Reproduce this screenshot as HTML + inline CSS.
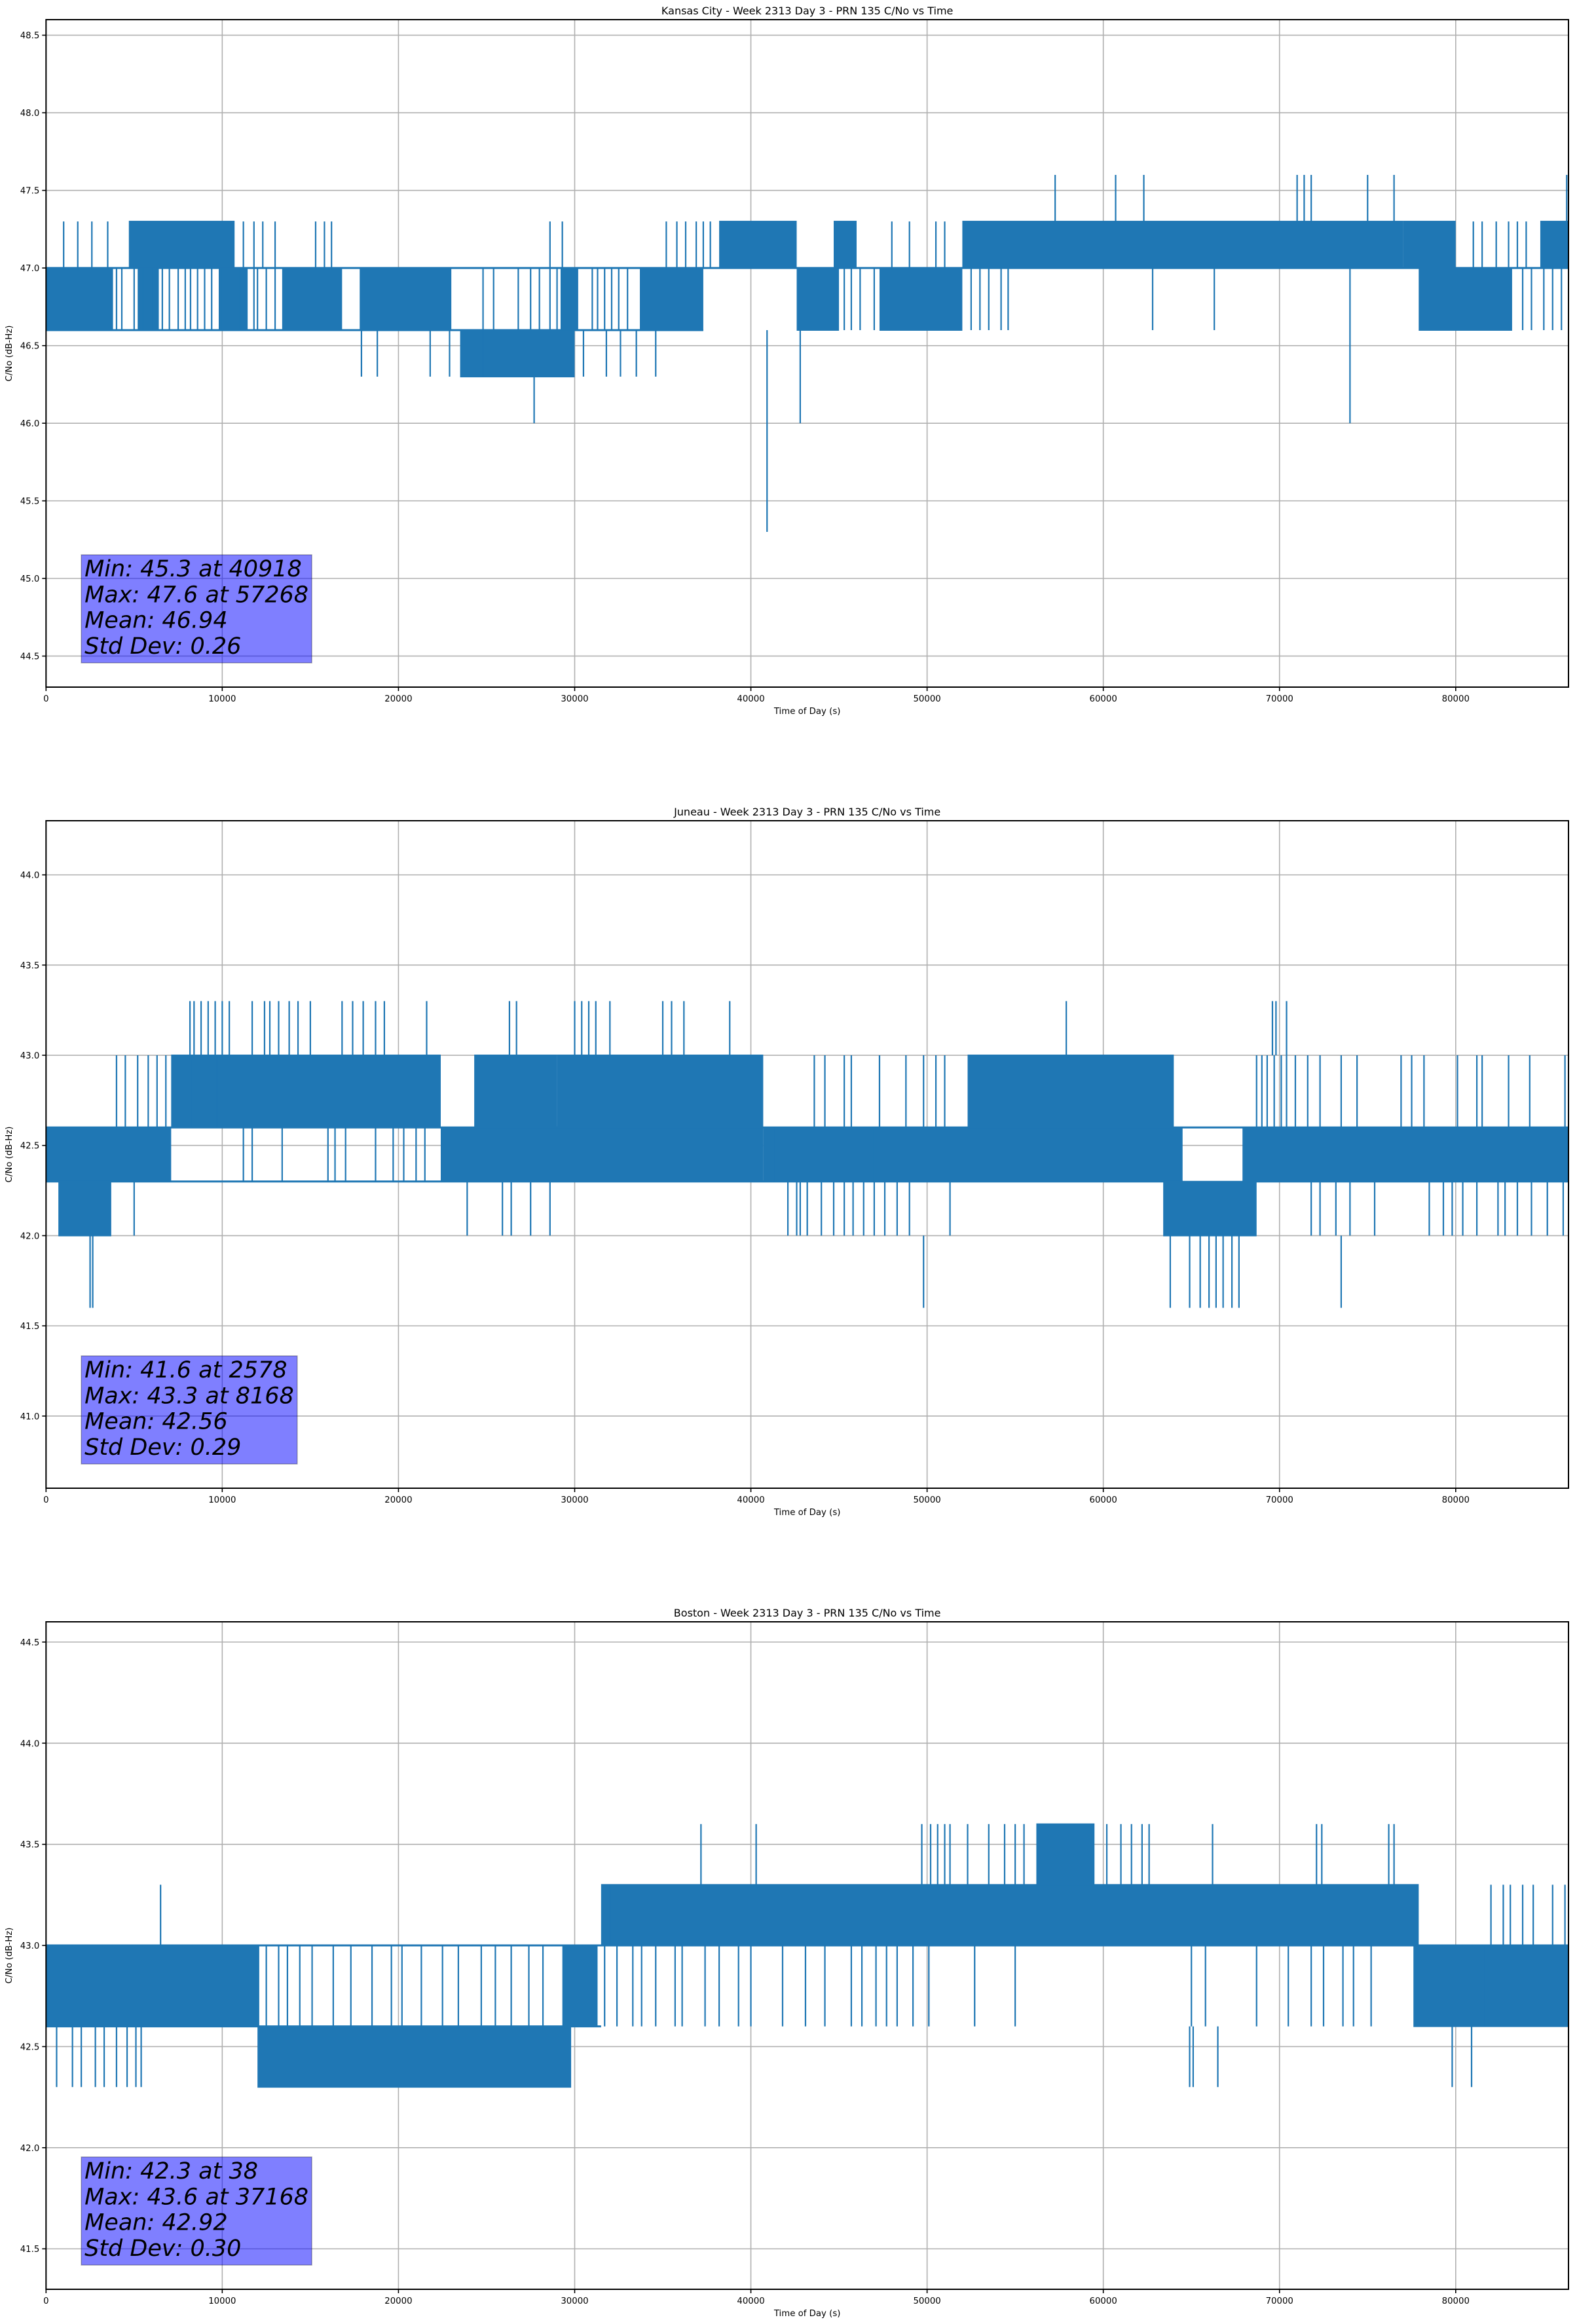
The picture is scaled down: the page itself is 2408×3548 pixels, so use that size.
<!DOCTYPE html>
<html><head><meta charset="utf-8">
<style>
html,body{margin:0;padding:0;background:#fff;}
svg{display:block;}
text{font-family:"DejaVu Sans","Liberation Sans",sans-serif;fill:#000;}
</style></head>
<body>
<svg id="fig" width="2408" height="3548" viewBox="0 0 2408 3548" xmlns="http://www.w3.org/2000/svg"></svg>
<script>
// ---- Shared axis data ----
const xTicks = [0,10000,20000,30000,40000,50000,60000,70000,80000];
const xMax = 86400;
const chartTitles = ["Kansas City - Week 2313 Day 3 - PRN 135 C/No vs Time","Juneau - Week 2313 Day 3 - PRN 135 C/No vs Time","Boston - Week 2313 Day 3 - PRN 135 C/No vs Time"];
const yLimLo = [44.3, 40.6, 41.3];
const yLimHi = [48.6, 44.3, 44.6];
const yTicks1 = [44.5,45.0,45.5,46.0,46.5,47.0,47.5,48.0,48.5];
const yTicks2 = [41.0,41.5,42.0,42.5,43.0,43.5,44.0];
const yTicks3 = [41.5,42.0,42.5,43.0,43.5,44.0,44.5];
const statLines1 = ["Min: 45.3 at 40918","Max: 47.6 at 57268","Mean: 46.94","Std Dev: 0.26"];
const statLines2 = ["Min: 41.6 at 2578","Max: 43.3 at 8168","Mean: 42.56","Std Dev: 0.29"];
const statLines3 = ["Min: 42.3 at 38","Max: 43.6 at 37168","Mean: 42.92","Std Dev: 0.30"];

// ---- Chart 1 (Kansas City) ----
const c1BandStart = [0,4700,13400,17800,23500,29200,33700,38200,42600,44700,47300,52000,77900,77000,84800,5200,9800];
const c1BandEnd   = [3800,10700,16800,23000,30000,30200,37300,42600,45000,46000,52000,77000,83200,80000,86400,6400,11400];
const c1BandLo    = [46.6,47.0,46.6,46.6,46.3,46.6,46.6,47.0,46.6,47.0,46.6,47.0,46.6,47.0,47.0,46.6,46.6];
const c1BandHi    = [47.0,47.3,47.0,47.0,46.6,47.0,47.0,47.3,47.0,47.3,47.0,47.3,47.0,47.3,47.3,47.0,47.0];
const c1LevelY    = [47.0,46.6];
const c1LevelStart= [0,0];
const c1LevelEnd  = [86400,37300];
const c1SpikeT  = [4000,4300,5000,5500,6000,6600,7000,7500,7900,8200,8600,9000,9400,10000,11000,11400,11800,12000,12500,13000,1000,1800,2600,3500,11200,11800,12300,13000,17900,18800,21800,22900,27700,28600,29300,24800,25400,26800,27500,28000,29000,31000,31300,31700,32100,32500,33000,30500,31800,32600,33500,34600,35200,35800,36300,36900,37300,37700,40918,42800,45300,45700,46200,47000,48000,49000,50500,51000,52500,53000,53500,54200,54600,57268,60700,62300,71000,71400,71800,75000,76500,86300,62800,66300,74000,83800,84300,85000,85500,86000,81000,81500,82300,83000,83500,84000,15300,15800,16200];
const c1SpikeLo = [46.6,46.6,46.6,46.6,46.6,46.6,46.6,46.6,46.6,46.6,46.6,46.6,46.6,46.6,46.6,46.6,46.6,46.6,46.6,46.6,47.0,47.0,47.0,47.0,47.0,47.0,47.0,47.0,46.3,46.3,46.3,46.3,46.0,46.6,46.6,46.3,46.3,46.6,46.6,46.6,46.6,46.6,46.6,46.6,46.6,46.6,46.6,46.3,46.3,46.3,46.3,46.3,47.0,47.0,47.0,47.0,47.0,47.0,45.3,46.0,46.6,46.6,46.6,46.6,47.0,47.0,47.0,47.0,46.6,46.6,46.6,46.6,46.6,47.3,47.3,47.3,47.3,47.3,47.3,47.3,47.3,47.3,46.6,46.6,46.0,46.6,46.6,46.6,46.6,46.6,47.0,47.0,47.0,47.0,47.0,47.0,47.0,47.0,47.0];
const c1SpikeHi = [47.0,47.0,47.0,47.0,47.0,47.0,47.0,47.0,47.0,47.0,47.0,47.0,47.0,47.0,47.0,47.0,47.0,47.0,47.0,47.0,47.3,47.3,47.3,47.3,47.3,47.3,47.3,47.3,46.6,46.6,46.6,46.6,46.3,47.3,47.3,47.0,47.0,47.0,47.0,47.0,47.0,47.0,47.0,47.0,47.0,47.0,47.0,46.6,46.6,46.6,46.6,46.6,47.3,47.3,47.3,47.3,47.3,47.3,46.6,46.6,47.0,47.0,47.0,47.0,47.3,47.3,47.3,47.3,47.0,47.0,47.0,47.0,47.0,47.6,47.6,47.6,47.6,47.6,47.6,47.6,47.6,47.6,47.0,47.0,47.0,47.0,47.0,47.0,47.0,47.0,47.3,47.3,47.3,47.3,47.3,47.3,47.3,47.3,47.3];

// ---- Chart 2 (Juneau) ----
const c2BandStart = [0,700,7100,22400,24300,29000,40700,52300,63400,67900];
const c2BandEnd   = [7100,3700,22400,40700,29000,40700,64500,64000,68700,86400];
const c2BandLo    = [42.3,42.0,42.6,42.3,42.6,42.6,42.3,42.6,42.0,42.3];
const c2BandHi    = [42.6,42.3,43.0,42.6,43.0,43.0,42.6,43.0,42.3,42.6];
const c2LevelY    = [42.6,42.3,42.3];
const c2LevelStart= [0,0,67900];
const c2LevelEnd  = [86400,64500,86400];
const c2SpikeT  = [8168,8400,8800,9200,9600,10000,10400,11700,12400,12700,13200,13800,14300,15000,16800,17400,18000,18700,19200,21600,26300,26700,30000,30400,30800,31200,32000,35000,35500,36200,38800,57900,69600,69800,70400,2500,2650,49800,63800,64900,65500,66000,66400,66800,67300,67700,73500,5000,23900,25900,26400,27500,28600,42100,42600,43200,44000,44700,45300,45800,46400,47000,47600,48300,49000,51300,71800,72300,73200,74000,75400,78500,79300,79800,80400,81200,82400,82800,83500,84300,85200,86100,42800,43600,44200,45300,45700,49800,50500,68700,69000,69300,69700,70100,70400,70900,71600,72300,73500,74400,76900,81200,81500,84200,86200,4000,4500,5200,5800,6300,6800,8300,9700,11200,11700,13400,16000,16400,17000,18700,19700,20300,21000,21500,41300,46900,47300,48800,51000,77500,78200,80100,83000];
const c2SpikeLo = [43.0,43.0,43.0,43.0,43.0,43.0,43.0,43.0,43.0,43.0,43.0,43.0,43.0,43.0,43.0,43.0,43.0,43.0,43.0,43.0,43.0,43.0,43.0,43.0,43.0,43.0,43.0,43.0,43.0,43.0,43.0,43.0,43.0,43.0,43.0,41.6,41.6,41.6,41.6,41.6,41.6,41.6,41.6,41.6,41.6,41.6,41.6,42.0,42.0,42.0,42.0,42.0,42.0,42.0,42.0,42.0,42.0,42.0,42.0,42.0,42.0,42.0,42.0,42.0,42.0,42.0,42.0,42.0,42.0,42.0,42.0,42.0,42.0,42.0,42.0,42.0,42.0,42.0,42.0,42.0,42.0,42.0,42.0,42.6,42.6,42.6,42.6,42.6,42.6,42.6,42.6,42.6,42.6,42.6,42.6,42.6,42.6,42.6,42.6,42.6,42.6,42.6,42.6,42.6,42.6,42.6,42.6,42.6,42.6,42.6,42.6,42.6,42.6,42.3,42.3,42.3,42.3,42.3,42.3,42.3,42.3,42.3,42.3,42.3,42.3,42.3,42.6,42.6,42.6,42.6,42.6,42.6,42.6,42.6,42.6];
const c2SpikeHi = [43.3,43.3,43.3,43.3,43.3,43.3,43.3,43.3,43.3,43.3,43.3,43.3,43.3,43.3,43.3,43.3,43.3,43.3,43.3,43.3,43.3,43.3,43.3,43.3,43.3,43.3,43.3,43.3,43.3,43.3,43.3,43.3,43.3,43.3,43.3,42.0,42.0,42.0,42.0,42.0,42.0,42.0,42.0,42.0,42.0,42.0,42.0,42.3,42.3,42.3,42.3,42.3,42.3,42.3,42.3,42.3,42.3,42.3,42.3,42.3,42.3,42.3,42.3,42.3,42.3,42.3,42.3,42.3,42.3,42.3,42.3,42.3,42.3,42.3,42.3,42.3,42.3,42.3,42.3,42.3,42.3,42.3,42.3,43.0,43.0,43.0,43.0,43.0,43.0,43.0,43.0,43.0,43.0,43.0,43.0,43.0,43.0,43.0,43.0,43.0,43.0,43.0,43.0,43.0,43.0,43.0,43.0,43.0,43.0,43.0,43.0,43.0,43.0,42.6,42.6,42.6,42.6,42.6,42.6,42.6,42.6,42.6,42.6,42.6,42.6,42.6,43.0,43.0,43.0,43.0,43.0,43.0,43.0,43.0,43.0];

// ---- Chart 3 (Boston) ----
const c3BandStart = [0,12000,29300,31500,56200,77600];
const c3BandEnd   = [12100,29800,31300,77900,59500,86400];
const c3BandLo    = [42.6,42.3,42.6,43.0,43.3,42.6];
const c3BandHi    = [43.0,42.6,43.0,43.3,43.6,43.0];
const c3LevelY    = [43.0,42.6];
const c3LevelStart= [0,0];
const c3LevelEnd  = [86400,31500];
const c3SpikeT  = [6500,37168,40300,49700,50200,50600,51000,51300,52300,53500,54400,55000,55500,60200,61000,61600,62200,62600,66200,72100,72400,76200,76500,64900,65100,66500,79800,80900,600,1500,2000,2800,3300,4000,4600,5100,5400,12500,13200,13700,14400,15100,16300,17300,18500,19600,20200,21300,22500,23400,24700,25500,26400,27400,28200,31700,32400,33300,34600,35700,37400,38200,40000,41800,44200,45700,46300,47100,47700,48300,49200,50100,52700,55000,65000,65800,68700,70500,71800,72500,73600,74200,75200,81600,82000,82700,83100,83800,84400,85500,86200,32000,33800,36100,39300,43100];
const c3SpikeLo = [43.0,43.3,43.3,43.3,43.3,43.3,43.3,43.3,43.3,43.3,43.3,43.3,43.3,43.3,43.3,43.3,43.3,43.3,43.3,43.3,43.3,43.3,43.3,42.3,42.3,42.3,42.3,42.3,42.3,42.3,42.3,42.3,42.3,42.3,42.3,42.3,42.3,42.6,42.6,42.6,42.6,42.6,42.6,42.6,42.6,42.6,42.6,42.6,42.6,42.6,42.6,42.6,42.6,42.6,42.6,42.6,42.6,42.6,42.6,42.6,42.6,42.6,42.6,42.6,42.6,42.6,42.6,42.6,42.6,42.6,42.6,42.6,42.6,42.6,42.6,42.6,42.6,42.6,42.6,42.6,42.6,42.6,42.6,42.6,43.0,43.0,43.0,43.0,43.0,43.0,43.0,43.0,42.6,42.6,42.6,42.6,42.6];
const c3SpikeHi = [43.3,43.6,43.6,43.6,43.6,43.6,43.6,43.6,43.6,43.6,43.6,43.6,43.6,43.6,43.6,43.6,43.6,43.6,43.6,43.6,43.6,43.6,43.6,42.6,42.6,42.6,42.6,42.6,42.6,42.6,42.6,42.6,42.6,42.6,42.6,42.6,42.6,43.0,43.0,43.0,43.0,43.0,43.0,43.0,43.0,43.0,43.0,43.0,43.0,43.0,43.0,43.0,43.0,43.0,43.0,43.0,43.0,43.0,43.0,43.0,43.0,43.0,43.0,43.0,43.0,43.0,43.0,43.0,43.0,43.0,43.0,43.0,43.0,43.0,43.0,43.0,43.0,43.0,43.0,43.0,43.0,43.0,43.0,43.0,43.3,43.3,43.3,43.3,43.3,43.3,43.3,43.3,43.0,43.0,43.0,43.0,43.0];

const NS = "http://www.w3.org/2000/svg";
const svg = document.getElementById('fig');
const L = 70.3, R = 2395, H = 1019, TOPS = [30, 1253, 2476];
const BLUE = "#1f77b4";
function mk(tag, attrs, parent){
  const e = document.createElementNS(NS, tag);
  for (const k in attrs) e.setAttribute(k, attrs[k]);
  parent.appendChild(e);
  return e;
}

const charts = [
  {bs:c1BandStart,be:c1BandEnd,bl:c1BandLo,bh:c1BandHi,st:c1SpikeT,sl:c1SpikeLo,sh:c1SpikeHi,ly:c1LevelY,ls:c1LevelStart,le:c1LevelEnd,yt:yTicks1,stats:statLines1},
  {bs:c2BandStart,be:c2BandEnd,bl:c2BandLo,bh:c2BandHi,st:c2SpikeT,sl:c2SpikeLo,sh:c2SpikeHi,ly:c2LevelY,ls:c2LevelStart,le:c2LevelEnd,yt:yTicks2,stats:statLines2},
  {bs:c3BandStart,be:c3BandEnd,bl:c3BandLo,bh:c3BandHi,st:c3SpikeT,sl:c3SpikeLo,sh:c3SpikeHi,ly:c3LevelY,ls:c3LevelStart,le:c3LevelEnd,yt:yTicks3,stats:statLines3}
];

charts.forEach((c, i) => {
  const top = TOPS[i], bot = top + H;
  const lo = yLimLo[i], hi = yLimHi[i];
  const xs = v => L + (v / xMax) * (R - L);
  const ys = v => bot - (v - lo) / (hi - lo) * H;
  const g = mk('g', {}, svg);
  
  

  const grid = mk('g', {stroke:'#b0b0b0','stroke-width':1.6}, g);
  
  
  xTicks.forEach(t => mk('line', {x1:xs(t),x2:xs(t),y1:top,y2:bot}, grid));
  c.yt.forEach(t => mk('line', {x1:L,x2:R,y1:ys(t),y2:ys(t)}, grid));

  const ser = mk('g', {}, g);
  
  
  c.ly.forEach((v, k) => {
    const l = mk('line', {x1:xs(c.ls[k]), x2:xs(c.le[k]), y1:ys(v), y2:ys(v), stroke:BLUE, 'stroke-width':3}, ser);
    
    
  });
  c.bs.forEach((s, k) => {
    const r = mk('rect', {x:xs(s), y:ys(c.bh[k]) - 1, width:Math.max(1, xs(c.be[k]) - xs(s)), height:ys(c.bl[k]) - ys(c.bh[k]) + 2, fill:BLUE}, ser);
    
    
  });
  c.st.forEach((t, k) => {
    const l = mk('line', {x1:xs(t), x2:xs(t), y1:ys(c.sl[k]), y2:ys(c.sh[k]), stroke:BLUE, 'stroke-width':2.2}, ser);
    
    
  });

  const fr = mk('rect', {x:L, y:top, width:R-L, height:H, fill:'none', stroke:'#000', 'stroke-width':2}, g);
  
  

  xTicks.forEach(t => {
    mk('line', {x1:xs(t), x2:xs(t), y1:bot, y2:bot+6, stroke:'#000','stroke-width':1.6}, g);
    const tx = mk('text', {x:xs(t), y:bot+22, 'font-size':13.3, 'text-anchor':'middle'}, g);
    
    
    tx.textContent = String(t);
  });
  c.yt.forEach(t => {
    mk('line', {x1:L-6, x2:L, y1:ys(t), y2:ys(t), stroke:'#000','stroke-width':1.6}, g);
    const tx = mk('text', {x:L-10, y:ys(t)+5, 'font-size':13.3, 'text-anchor':'end'}, g);
    
    
    tx.textContent = t.toFixed(1);
  });

  const ti = mk('text', {x:(L+R)/2, y:top-8, 'font-size':16, 'text-anchor':'middle'}, g);
  
  
  ti.textContent = chartTitles[i];
  const xl = mk('text', {x:(L+R)/2, y:bot+41, 'font-size':13.3, 'text-anchor':'middle'}, g);
  
  
  xl.textContent = "Time of Day (s)";
  const yc = top + H/2;
  const yl = mk('text', {x:18, y:yc, 'font-size':13.3, 'text-anchor':'middle', transform:'rotate(-90 18 '+yc+')'}, g);
  
  
  yl.textContent = "C/No (dB-Hz)";

  const boxTop = top + 817, boxBot = bot - 37;
  const bx = mk('rect', {x:xs(2000), y:boxTop, width:100, height:boxBot-boxTop, fill:'rgba(0,0,255,0.5)', stroke:'rgba(0,0,0,0.3)', 'stroke-width':1.5}, g);
  
  
  let maxW = 0;
  c.stats.forEach((s, k) => {
    const t = mk('text', {x:xs(2000)+5, y:boxTop + 33 + k*39.3, 'font-size':35, 'font-style':'italic'}, g);
    
    
    t.textContent = s;
    maxW = Math.max(maxW, t.getComputedTextLength());
  });
  bx.setAttribute('width', maxW + 10);
});
</script>
</body></html>
